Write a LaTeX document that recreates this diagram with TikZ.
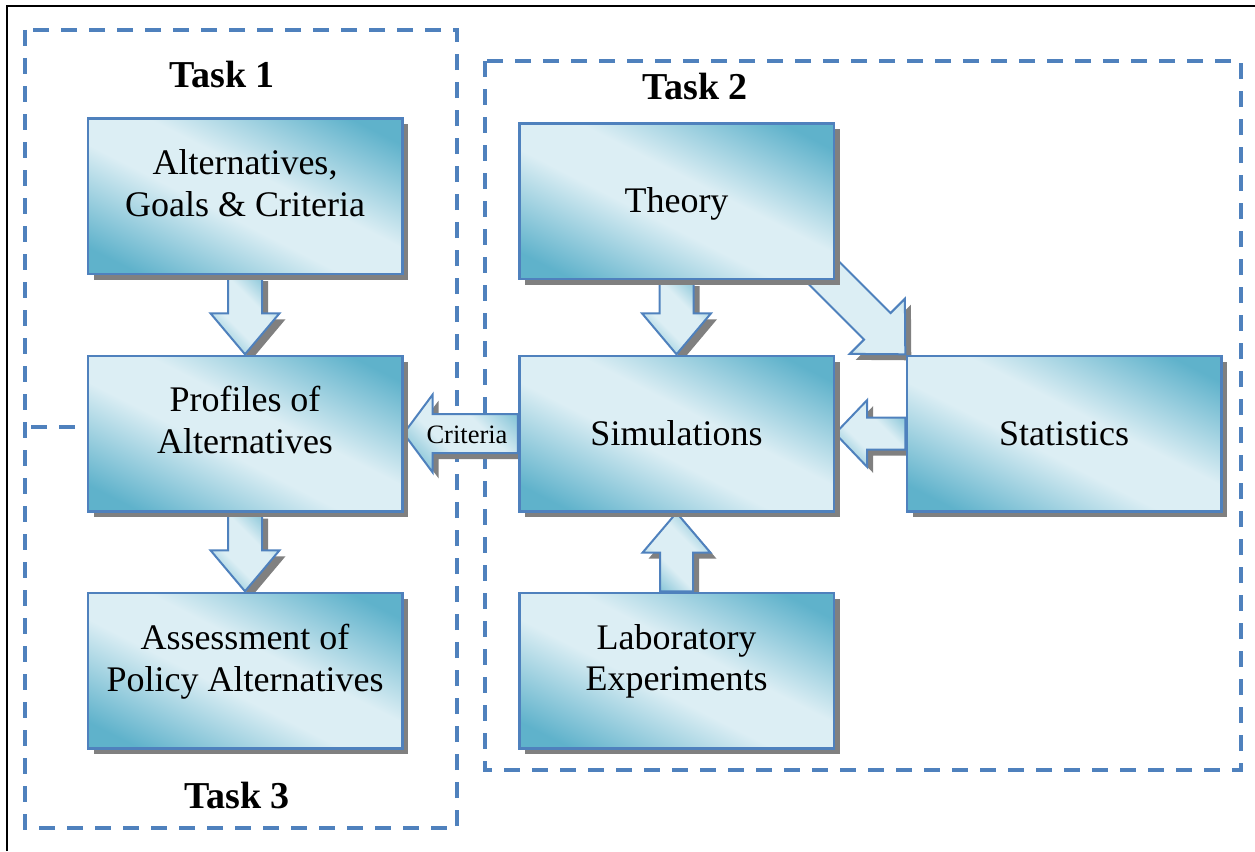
\documentclass[tikz,border=0pt]{standalone}
\usepackage{fontspec}
\setmainfont{Liberation Serif}
\usetikzlibrary{calc,shadows}
\definecolor{bord}{HTML}{4F81BD}
\definecolor{lite}{HTML}{DCEEF4}
\definecolor{dark}{HTML}{5FB2CB}
\pgfdeclarehorizontalshading{boxshade}{100bp}{color(0bp)=(dark); color(22bp)=(dark); color(44bp)=(lite); color(56bp)=(lite); color(78bp)=(dark); color(100bp)=(dark)}
\pgfdeclarehorizontalshading{arrshade}{100bp}{color(0bp)=(dark); color(15bp)=(dark); color(40bp)=(lite); color(60bp)=(lite); color(85bp)=(dark); color(100bp)=(dark)}
\tikzset{
  boxsh/.style={drop shadow={shadow xshift=6pt, shadow yshift=-6pt, fill=black!50, opacity=1}},
  box/.style={rectangle, draw=bord, line width=2.5pt, shade, shading=boxshade, shading angle=63,
    minimum width=314.5pt, minimum height=155.5pt, inner sep=0pt, boxsh},
  arr/.style={draw=bord, line width=2pt, shade, shading=arrshade, shading angle=45, line join=miter, boxsh},
  lbl/.style={font=\fontsize{36}{41.5}\selectfont, align=center, inner sep=0pt},
  task/.style={font=\fontsize{38}{44}\selectfont\bfseries, inner sep=0pt},
  frame/.style={draw=bord, line width=3.2pt, dash pattern=on 16pt off 12pt},
}
\newcommand\blockarrow[6][]{%
  \coordinate (ah) at ($(#3)!#6!(#2)$);
  \path[arr,#1] ($(#2)!#4!90:(#3)$) -- ($(ah)!#4!-90:(#2)$) -- ($(ah)!#5!-90:(#2)$) -- (#3)
    -- ($(ah)!#5!90:(#2)$) -- ($(ah)!#4!90:(#2)$) -- ($(#2)!#4!-90:(#3)$) -- cycle;
}
\begin{document}
\begin{tikzpicture}[x=1pt,y=-1pt]
\useasboundingbox (0,0) rectangle (1255,851);
% outer border
\draw[black, line width=2pt] (7,851) -- (7,6) -- (1255,6);
% task frames
\draw[frame] (25,30) rectangle (457,828);
\draw[frame] (485,61) rectangle (1241,770);
% box positions
\path (245,196) node[minimum width=317pt, minimum height=158pt, inner sep=0pt] (alt) {}
      (245,433.5) node[minimum width=317pt, minimum height=158pt, inner sep=0pt] (prof) {}
      (245,670.5) node[minimum width=317pt, minimum height=158pt, inner sep=0pt] (assess) {}
      (676.5,201) node[minimum width=317pt, minimum height=158pt, inner sep=0pt] (theory) {}
      (676.5,433.5) node[minimum width=317pt, minimum height=158pt, inner sep=0pt] (sim) {}
      (1064,433.5) node[minimum width=317pt, minimum height=158pt, inner sep=0pt] (stat) {}
      (676.5,670.5) node[minimum width=317pt, minimum height=158pt, inner sep=0pt] (lab) {};
\draw[frame, dash phase=22pt] (25,427) -- (prof.west |- 0,427);
\coordinate (diagtail) at ($(stat.north west)+(-120,-120)$);
% arrows
\blockarrow{alt.south}{prof.north}{17pt}{34.5pt}{41pt}
\blockarrow{prof.south}{assess.north}{17pt}{34.5pt}{41pt}
\blockarrow{theory.south}{sim.north}{17pt}{34.5pt}{41pt}
\blockarrow{lab.north}{sim.south}{16.5pt}{34pt}{40pt}
\blockarrow{stat.west}{sim.east}{16pt}{33.5pt}{32pt}
\blockarrow{sim.west}{prof.east}{19.5pt}{39pt}{29pt}
\blockarrow{diagtail}{stat.north west}{18.75pt}{39pt}{39.6pt}
\node[font=\fontsize{26.5}{30}\selectfont, inner sep=0pt, anchor=base] (crit) at (467,443) {Criteria};
% boxes
\node[box] (altb) at (alt) {};
\node[box] (profb) at (prof) {};
\node[box] (assessb) at (assess) {};
\node[box] (theoryb) at (theory) {};
\node[box] (simb) at (sim) {};
\node[box] (statb) at (stat) {};
\node[box] (labb) at (lab) {};
% labels
\node[lbl] (altt) at ([yshift=12.6pt]alt.center) {Alternatives,\\Goals \& Criteria};
\node[lbl] (proft) at ([yshift=13.5pt]prof.center) {Profiles of\\Alternatives};
\node[lbl] (assesst) at ([yshift=8.7pt]assess.center) {Assessment of\\Policy Alternatives};
\node[lbl] (theoryt) at ([yshift=-3pt]theory.center) {Theory};
\node[lbl] (simt) at (sim.center) {Simulations};
\node[lbl] (statt) at (stat.center) {Statistics};
\node[lbl] (labt) at ([yshift=9pt]lab.center) {Laboratory\\Experiments};
\node[task] (task1) at (222,75) {Task 1};
\node[task] (task2) at (695,87) {Task 2};
\node[task] (task3) at (237,795) {Task 3};
\end{tikzpicture}
\end{document}
